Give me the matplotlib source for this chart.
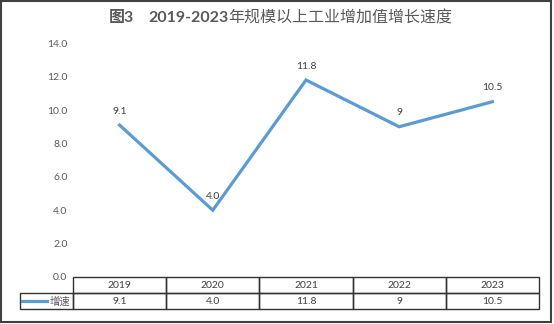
import matplotlib
matplotlib.use("Agg")
import matplotlib.pyplot as plt
from matplotlib.lines import Line2D
from matplotlib.patches import Rectangle

plt.rcParams['font.family'] = ['Lato', 'Noto Sans CJK SC', 'DejaVu Sans']

years = ["2019", "2020", "2021", "2022", "2023"]
growth = [9.1, 4.0, 11.8, 9, 10.5]
growth_labels = ["9.1", "4.0", "11.8", "9", "10.5"]
series_name = "增速"
yticks = [0, 2, 4, 6, 8, 10, 12, 14]
title_a = "图3"
title_b = "2019-2023"
title_c = "年规模以上工业增加值增长速度"

W, H = 554, 324
fig = plt.figure(figsize=(W / 100, H / 100), dpi=100)
fig.patch.set_facecolor("white")

left_px, right_px, top_px, bottom_px = 73, 539, 43.3, 277
ax = fig.add_axes([left_px / W, 1 - bottom_px / H,
                   (right_px - left_px) / W, (bottom_px - top_px) / H])
ax.set_facecolor("none")

line_color = "#5B9BD5"
x = list(range(len(years)))
ax.plot(x, growth, color=line_color, lw=2.3, solid_joinstyle="miter", clip_on=False)
for xi, yi, lab in zip(x, growth, growth_labels):
    ax.annotate(lab, (xi, yi), xytext=(0, 10), textcoords="offset points",
                ha="center", va="center", fontsize=7.5, color="#404040")

ax.set_xlim(-0.5, len(years) - 0.5)
ax.set_ylim(0, 14)
ax.set_yticks(yticks)
ax.set_yticklabels([f"{v:.1f}" for v in yticks], fontsize=7.5, color="#595959")
ax.tick_params(axis="y", length=0, pad=4)
ax.set_xticks([])
for s in ax.spines.values():
    s.set_visible(False)

# data table under the plot
plot_w = right_px - left_px
plot_h = bottom_px - top_px
lab_w = 53.0
row_h = 16.0
cell_text = [[""] + years, [""] + growth_labels]
col_w = [lab_w / plot_w] + [1.0 / len(years)] * len(years)
tb = ax.table(cellText=cell_text, colWidths=col_w, cellLoc="center",
              bbox=[-lab_w / plot_w, -2 * row_h / plot_h, 1 + lab_w / plot_w, 2 * row_h / plot_h])
tb.auto_set_font_size(False)
for (r, c), cell in tb.get_celld().items():
    cell.set_edgecolor("#333333")
    cell.set_linewidth(1.0)
    cell.set_facecolor("none")
    cell.get_text().set_fontsize(7.5)
    cell.get_text().set_color("#404040")
    if r == 0 and c == 0:
        cell.visible_edges = ""

# legend key in the row label cell
handle = Line2D([], [], color=line_color, lw=2.3)
leg = ax.legend([handle], [series_name], loc="center left",
                bbox_to_anchor=((22 - left_px) / plot_w, (bottom_px - 301.5) / plot_h),
                frameon=False, fontsize=7.5, handlelength=2.4, handletextpad=0.2,
                borderpad=0, borderaxespad=0)
for t in leg.get_texts():
    t.set_color("#595959")

# title
ty = 1 - 18 / H
t1 = fig.text(109 / W, ty, title_a, fontsize=11.5, fontweight="bold",
              color="#595959", ha="left", va="center")
t2 = fig.text(148 / W, ty, title_b, fontsize=11.5, fontweight="bold",
              color="#595959", ha="left", va="center")
fig.canvas.draw()
ax.annotate(title_c, xy=(1, 0.5), xycoords=t2, xytext=(0, 0), textcoords="offset points",
            fontsize=11.5, color="#595959", ha="left", va="center")

# outer border
fig.patches.append(Rectangle((1 / W, 2 / H), 550 / W, 321 / H, transform=fig.transFigure,
                             fill=False, edgecolor="#404040", lw=1.5))

fig.savefig("out.png", dpi=100)
